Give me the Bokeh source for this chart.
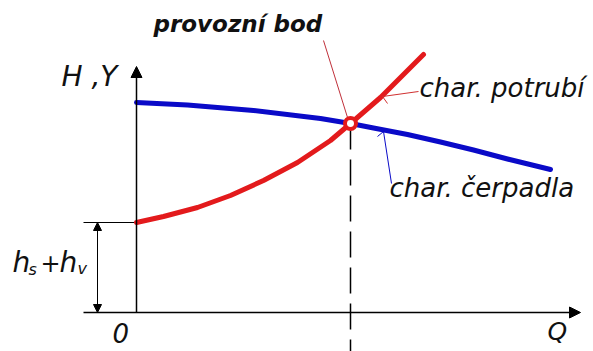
from bokeh.plotting import figure
from bokeh.models import Range1d, Arrow, NormalHead
from bokeh.core.properties import value
from bokeh.embed import file_html
from bokeh.resources import INLINE

# Pump characteristic (blue): delivery head Y against flow Q
q_pump = [0, 51, 117, 184, 214, 237, 271, 304, 337, 371, 414]
h_pump = [210, 207.5, 202, 194, 189, 184.5, 178, 170.5, 162.5, 153.5, 143]

# Pipe characteristic (red): static head hs + hv plus friction losses
q_pipe = [0, 27, 61, 94, 127, 161, 194, 214, 244, 287]
h_pipe = [90, 96, 105, 117, 132, 150, 172, 189, 215, 258]

# Operating point (intersection) and the static head hs + hv
q_op, h_op = 214, 189
h_static = h_pipe[0]

BLUE = "#0a0ac8"
RED = "#e31a1c"
INK = "#111111"
FONT = "DejaVu Sans"

# one data unit per pixel; origin of the Q-H diagram at (136, 312) on the page
OX, OY = 136, 312
# the svg text baseline sits lower than requested; lift the labels by this much
TEXT_LIFT = 10

p = figure(width=593, height=351,
           x_range=Range1d(-OX, 593 - OX), y_range=Range1d(OY - 351, OY),
           output_backend="svg", toolbar_location=None,
           x_axis_location=None, y_axis_location=None,
           min_border=0, outline_line_color=None,
           background_fill_color="white", border_fill_color="white")
p.grid.visible = False


def pg(x, y):
    """page pixel -> diagram coordinates"""
    return x - OX, OY - y


def head(size):
    return NormalHead(size=size, fill_color="black", line_color="black", line_width=1)


# Q axis and H,Y axis with arrows
x0, _ = pg(83, 0)
x1, _ = pg(580, 0)
_, ytop = pg(0, 66)
p.add_layout(Arrow(end=head(11), x_start=x0, y_start=0, x_end=x1, y_end=0,
                   line_color="black", line_width=1.5))
p.add_layout(Arrow(end=head(11), x_start=0, y_start=0, x_end=0, y_end=ytop,
                   line_color="black", line_width=1.5))

# hs + hv dimension
p.line([x0, 0], [h_static, h_static], line_color="black", line_width=1)
xd, _ = pg(97, 0)
p.add_layout(Arrow(start=head(8), end=head(8), x_start=xd, y_start=0, x_end=xd, y_end=h_static,
                   line_color="black", line_width=1))

# dashed projection of the operating point onto the Q axis
_, ybot = pg(0, 351)
p.line([q_op, q_op], [h_op, ybot], line_color="black", line_width=1.5, line_dash="26 10")

# characteristics
p.line(q_pump, h_pump, line_color=BLUE, line_width=5, line_cap="round", line_join="round")
p.line(q_pipe, h_pipe, line_color=RED, line_width=5, line_cap="round", line_join="round")

# leader lines
lx, ly = zip(pg(323, 40), pg(347, 117))
p.line(list(lx), list(ly), line_color="#c0303a", line_width=1)
lx, ly = zip(pg(418, 91), pg(382, 96), pg(387, 103))
p.line(list(lx), list(ly), line_color="#d03030", line_width=1)
lx, ly = zip(pg(377, 136), pg(383, 131), pg(391, 183))
p.line(list(lx), list(ly), line_color=BLUE, line_width=1)

# operating point marker
p.scatter([q_op], [h_op], size=11, marker="circle", fill_color="white",
          line_color=RED, line_width=4)


def label(text, x, y, size, style="italic"):
    lxp, lyp = pg(x, y - TEXT_LIFT)
    p.text([lxp], [lyp], text=[text], text_font=value(FONT), text_font_size=f"{size}px",
           text_font_style=style, text_color=INK,
           text_align="left", text_baseline="alphabetic")


label("provozní bod", 153, 33, 23, "bold italic")
label("char. potrubí", 419, 97, 26)
label("char. čerpadla", 389, 197, 26)
label("H ,Y", 61, 86, 28)
label("0", 112, 342, 26)
label("Q", 547, 341, 25)
label("h", 12, 272, 28)
label("s", 28, 279, 16)
label("+", 40, 272, 24)
label("h", 59, 272, 28)
label("v", 77, 278, 16)

open("out.html", "w").write(file_html(p, INLINE))
